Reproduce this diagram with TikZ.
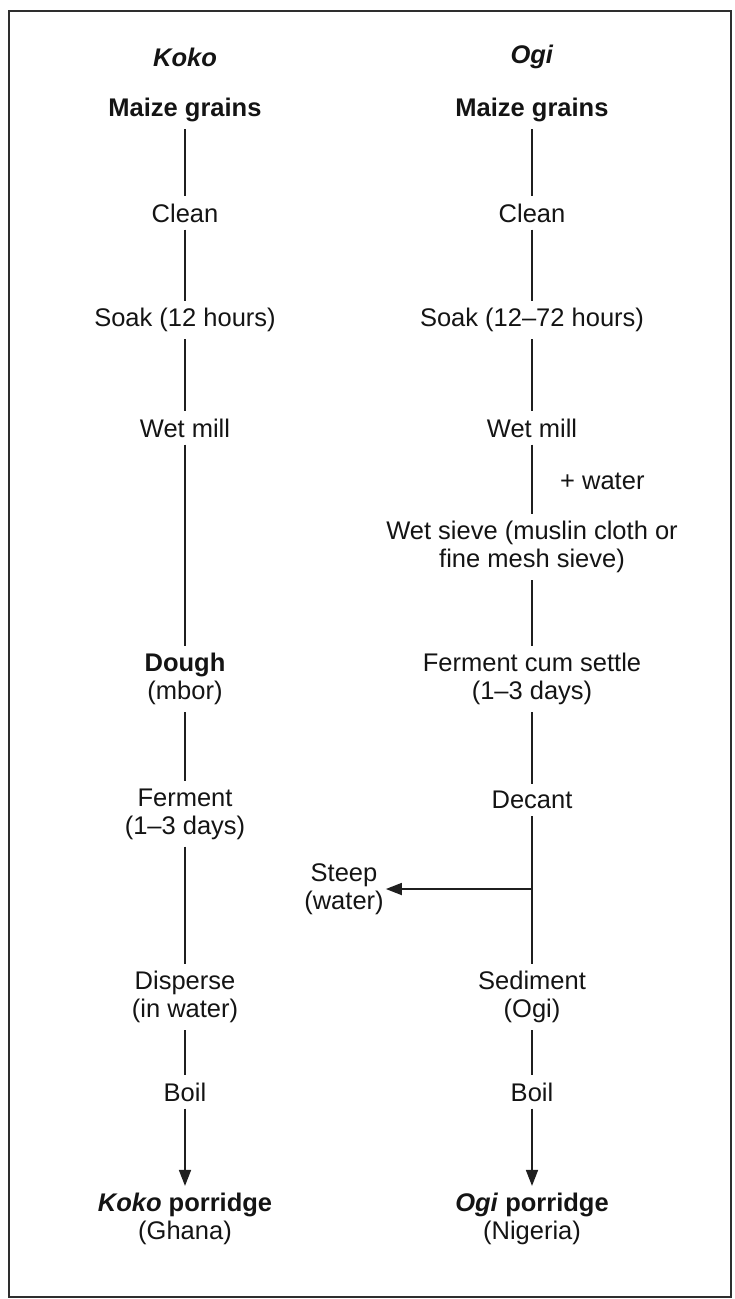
\documentclass[tikz,border=0pt]{standalone}
\usepackage{fontspec}
\setmainfont{Liberation Sans}
\usetikzlibrary{arrows.meta}
\begin{document}
\begin{tikzpicture}[x=1pt,y=-1pt,
  every node/.style={font=\fontsize{25.5}{28}\selectfont, align=center,
    inner xsep=2pt, inner ysep=7pt, text=black!92},
  flow/.style={line width=1.7pt, draw=black!88},
  tip/.style={flow, -{Triangle[length=16pt,width=12pt]}},
]
\useasboundingbox (0,0) rectangle (734,1299);
% outer frame
\draw[line width=2.6pt, black!82] (9,11) rectangle (731,1297);

% Koko column
\node (kh) at (185,57)  {\textbf{\textit{Koko}}};
\node (k1) at (185,110) {\textbf{Maize grains}};
\node (k2) at (185,213) {Clean};
\node (k3) at (185,320) {Soak (12 hours)};
\node (k4) at (185,428) {Wet mill};
\node (k5) at (185,679) {\textbf{Dough}\\(mbor)};
\node (k6) at (185,814) {Ferment\\(1–3 days)};
\node (k7) at (185,997) {Disperse\\(in water)};
\node (k8) at (185,1092) {Boil};
\node (k9) at (185,1219) {\textbf{\textit{Koko} porridge}\\(Ghana)};

% Ogi column
\node (oh) at (532,57)  {\textbf{\textit{Ogi}}};
\node (o1) at (532,110) {\textbf{Maize grains}};
\node (o2) at (532,213) {Clean};
\node (o3) at (532,320) {Soak (12–72 hours)};
\node (o4) at (532,428) {Wet mill};
\node[anchor=west] (ow) at (558,481) {+ water};
\node (o5) at (532,547) {Wet sieve (muslin cloth or\\fine mesh sieve)};
\node (o6) at (532,679) {Ferment cum settle\\(1–3 days)};
\node (o7) at (532,800) {Decant};
\node (o8) at (532,997) {Sediment\\(Ogi)};
\node (o9) at (532,1092) {Boil};
\node (o10) at (532,1219) {\textbf{\textit{Ogi} porridge}\\(Nigeria)};

% side branch
\node (st) at (344,889) {Steep\\(water)};
\coordinate (br) at (532,889);

% connectors
\draw[flow] (k1) -- (k2);
\draw[flow] (k2) -- (k3);
\draw[flow] (k3) -- (k4);
\draw[flow] (k4) -- (k5);
\draw[flow] (k5) -- (k6);
\draw[flow] (k6) -- (k7);
\draw[flow] (k7) -- (k8);
\draw[tip]  (k8) -- (k9);

\draw[flow] (o1) -- (o2);
\draw[flow] (o2) -- (o3);
\draw[flow] (o3) -- (o4);
\draw[flow] (o4) -- (o5);
\draw[flow] (o5) -- (o6);
\draw[flow] (o6) -- (o7);
\draw[flow] (o7) -- (o8);
\draw[flow] (o8) -- (o9);
\draw[tip]  (o9) -- (o10);
\draw[tip]  (br) -- (st);
\end{tikzpicture}
\end{document}
